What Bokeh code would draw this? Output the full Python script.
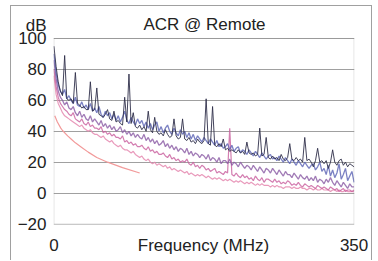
from bokeh.plotting import figure
from bokeh.models import Range1d, Label, FixedTicker, BoxAnnotation
from bokeh.embed import file_html
from bokeh.resources import INLINE

# frequency grid (MHz), 2.5 MHz steps
freq = [0, 2.5, 5, 7.5, 10, 12.5, 15, 17.5, 20, 22.5, 25, 27.5, 30, 32.5, 35, 37.5, 40, 42.5, 45, 47.5,
        50, 52.5, 55, 57.5, 60, 62.5, 65, 67.5, 70, 72.5, 75, 77.5, 80, 82.5, 85, 87.5, 90, 92.5, 95, 97.5,
        100, 102.5, 105, 107.5, 110, 112.5, 115, 117.5, 120, 122.5, 125, 127.5, 130, 132.5, 135, 137.5, 140, 142.5, 145, 147.5,
        150, 152.5, 155, 157.5, 160, 162.5, 165, 167.5, 170, 172.5, 175, 177.5, 180, 182.5, 185, 187.5, 190, 192.5, 195, 197.5,
        200, 202.5, 205, 207.5, 210, 212.5, 215, 217.5, 220, 222.5, 225, 227.5, 230, 232.5, 235, 237.5, 240, 242.5, 245, 247.5,
        250, 252.5, 255, 257.5, 260, 262.5, 265, 267.5, 270, 272.5, 275, 277.5, 280, 282.5, 285, 287.5, 290, 292.5, 295, 297.5,
        300, 302.5, 305, 307.5, 310, 312.5, 315, 317.5, 320, 322.5, 325, 327.5, 330, 332.5, 335, 337.5, 340, 342.5, 345, 347.5,
        350]

acr_dark = [95, 82, 72, 66, 63, 89, 61, 60, 61, 58, 78, 58, 57, 55, 56, 54, 54, 72, 53, 54,
            68, 51, 50, 49, 51, 54, 48, 47, 53, 46, 47, 45, 44, 62, 46, 77, 45, 52, 43, 42,
            44, 41, 43, 40, 53, 41, 39, 49, 40, 38, 39, 37, 41, 38, 36, 37, 48, 37, 35, 36,
            48, 35, 34, 36, 33, 34, 32, 35, 33, 32, 34, 61, 32, 31, 56, 31, 30, 32, 30, 35,
            28, 29, 27, 28, 27, 26, 28, 26, 27, 25, 33, 26, 25, 26, 24, 25, 42, 24, 25, 36,
            23, 22, 24, 22, 23, 21, 25, 22, 21, 23, 32, 22, 21, 23, 21, 22, 20, 36, 21, 22,
            20, 17, 21, 29, 20, 21, 19, 21, 16, 20, 28, 20, 18, 21, 22, 18, 20, 17, 19, 18,
            17]

acr_blue = [90, 78, 70, 66, 64, 67, 61, 63, 60, 58, 62, 57, 56, 59, 55, 57, 54, 58, 53, 55,
            52, 56, 51, 49, 53, 50, 52, 48, 51, 47, 50, 46, 49, 53, 47, 45, 49, 46, 44, 48,
            45, 47, 43, 46, 42, 45, 41, 44, 46, 40, 43, 39, 42, 44, 40, 38, 42, 39, 37, 41,
            38, 40, 36, 39, 35, 38, 34, 37, 35, 33, 36, 34, 32, 35, 33, 31, 34, 30, 32, 29,
            30, 32, 28, 31, 27, 29, 30, 26, 28, 27, 25, 28, 26, 24, 27, 25, 23, 26, 24, 22,
            24, 25, 22, 23, 21, 24, 22, 20, 23, 21, 19, 22, 20, 18, 21, 19, 17, 20, 18, 16,
            18, 19, 15, 17, 20, 14, 16, 12, 18, 11, 15, 10, 13, 19, 9, 12, 16, 8, 11, 14,
            7]

acr_purple = [86, 74, 66, 62, 60, 57, 59, 55, 54, 56, 52, 50, 53, 49, 51, 48, 47, 50, 46, 48,
              46, 44, 47, 43, 45, 42, 44, 41, 43, 40, 41, 43, 39, 41, 38, 40, 37, 39, 36, 38,
              36, 35, 38, 34, 36, 33, 35, 32, 34, 31, 32, 34, 30, 32, 29, 31, 28, 30, 27, 29,
              28, 26, 29, 25, 27, 24, 26, 25, 23, 25, 24, 22, 25, 21, 23, 22, 20, 23, 19, 21,
              21, 19, 22, 18, 20, 19, 17, 20, 18, 16, 18, 17, 15, 18, 16, 14, 17, 15, 13, 16,
              15, 13, 16, 14, 12, 15, 13, 11, 14, 12, 12, 10, 13, 11, 9, 12, 10, 9, 11, 8,
              10, 8, 11, 7, 9, 8, 6, 9, 7, 10, 7, 5, 8, 6, 4, 7, 5, 3, 6, 4,
              4]

acr_pink = [80, 69, 62, 58, 56, 54, 53, 51, 50, 52, 48, 47, 46, 48, 45, 44, 46, 43, 44, 42,
            42, 41, 43, 39, 40, 38, 39, 37, 38, 36, 36, 35, 37, 33, 34, 32, 33, 31, 32, 30,
            30, 31, 29, 28, 30, 27, 28, 26, 27, 25, 25, 26, 24, 23, 25, 22, 23, 21, 22, 20,
            21, 20, 22, 19, 18, 20, 17, 18, 16, 18, 17, 15, 16, 14, 15, 16, 13, 14, 13, 12,
            14, 13, 42, 12, 11, 13, 11, 10, 12, 10, 11, 9, 10, 8, 11, 9, 8, 10, 7, 9,
            9, 8, 7, 9, 7, 8, 6, 7, 6, 8, 7, 5, 6, 5, 7, 5, 4, 6, 5, 4,
            5, 4, 3, 5, 4, 3, 4, 3, 2, 4, 3, 2, 3, 1, 2, 3, 1, 2, 2, 1,
            2]

acr_low = [76, 64, 58, 55, 52, 50, 49, 48, 47, 46, 45, 44, 43, 44, 42, 41, 40, 41, 39, 38,
           38, 37, 36, 37, 35, 34, 33, 34, 32, 31, 30, 31, 29, 28, 28, 27, 26, 27, 25, 24,
           23, 24, 22, 21, 22, 20, 19, 20, 18, 19, 18, 17, 18, 16, 17, 15, 16, 15, 14, 15,
           14, 13, 14, 12, 13, 12, 11, 12, 11, 12, 11, 10, 11, 10, 9, 10, 9, 10, 9, 8,
           9, 8, 9, 8, 7, 8, 7, 8, 7, 6, 7, 6, 7, 6, 5, 6, 5, 6, 5, 5,
           5, 4, 5, 4, 5, 4, 4, 3, 4, 4, 4, 3, 4, 3, 3, 4, 3, 3, 2, 3,
           3, 2, 3, 2, 2, 3, 2, 2, 2, 1, 2, 2, 1, 2, 1, 1, 2, 1, 1, 1,
           1]

limit_freq = [1, 4, 8, 10, 16, 20, 25, 31.25, 40, 50, 62.5, 80, 100]
limit_acr = [50, 46, 42, 40.5, 37, 35, 32.5, 30, 26.5, 23, 20, 16.5, 13]

y_min, y_max = -20, 100
x_min, x_max = 0, 350
y_ticks = [-20, 0, 20, 40, 60, 80, 100]
x_ticks = [0, 174.4, 350]
x_tick_labels = ["0", "Frequency (MHz)", "350"]
title_text = "ACR @ Remote"
unit_text = "dB"
unit_pos = 108.5    # the unit sits just above the top tick
title_pos = (175.6, 109)

FONT = "Liberation Sans"
TXT = "#222222"
FS = "17px"
GRID = "#a0a0a0"

# the frame reaches above the plotted box so that "dB" and the title fit inside it
p = figure(width=362, height=255, output_backend="svg", toolbar_location=None,
           x_range=Range1d(x_min - 0.5, x_max + 0.5), y_range=Range1d(y_min - 0.3, 116.8),
           min_border_left=42, min_border_right=19, min_border_top=6, min_border_bottom=37)
p.styles = {"margin-left": "10px", "margin-top": "5px",
            "border-top": "1px solid #a0a0a0", "border-left": "1px solid #a0a0a0",
            "border-right": "1px solid #a0a0a0"}
p.background_fill_color = "white"
p.border_fill_color = "white"
p.outline_line_color = None

p.xgrid.visible = False
p.ygrid.ticker = FixedTicker(ticks=y_ticks)
p.ygrid.grid_line_color = GRID
p.ygrid.grid_line_width = 1

p.yaxis.ticker = FixedTicker(ticks=y_ticks + [unit_pos])
p.yaxis.major_label_overrides = {unit_pos: unit_text}
p.xaxis.ticker = FixedTicker(ticks=x_ticks)
p.xaxis.major_label_overrides = {t: s for t, s in zip(x_ticks, x_tick_labels)}
for ax in (p.xaxis[0], p.yaxis[0]):
    ax.axis_line_color = None
    ax.major_tick_line_color = None
    ax.minor_tick_line_color = None
    ax.major_tick_out = 0
    ax.major_tick_in = 0
    ax.major_label_text_font = FONT
    ax.major_label_text_font_size = FS
    ax.major_label_text_color = TXT
p.yaxis.major_label_standoff = 7
p.xaxis.major_label_standoff = 11

# plot box
p.add_layout(BoxAnnotation(left=x_min, right=x_max, bottom=y_min, top=y_max,
                           fill_alpha=0, line_color="#909090", line_width=1))

p.line(limit_freq, limit_acr, line_color="#f29a9a", line_width=1.2)
p.line(freq, acr_low, line_color="#e58ab0", line_width=1.2, line_alpha=0.85)
p.line(freq, acr_pink, line_color="#c85c9c", line_width=1.2, line_alpha=0.8)
p.line(freq, acr_purple, line_color="#8a5aa4", line_width=1.3, line_alpha=0.8)
p.line(freq, acr_blue, line_color="#5a62b4", line_width=1.3, line_alpha=0.8)
p.line(freq, acr_dark, line_color="#30304a", line_width=1, line_alpha=0.9)

p.add_layout(Label(x=title_pos[0], y=title_pos[1], text=title_text,
                   text_align="center", text_baseline="middle",
                   text_font=FONT, text_font_size=FS, text_color=TXT))

open("out.html", "w").write(file_html(p, INLINE))
